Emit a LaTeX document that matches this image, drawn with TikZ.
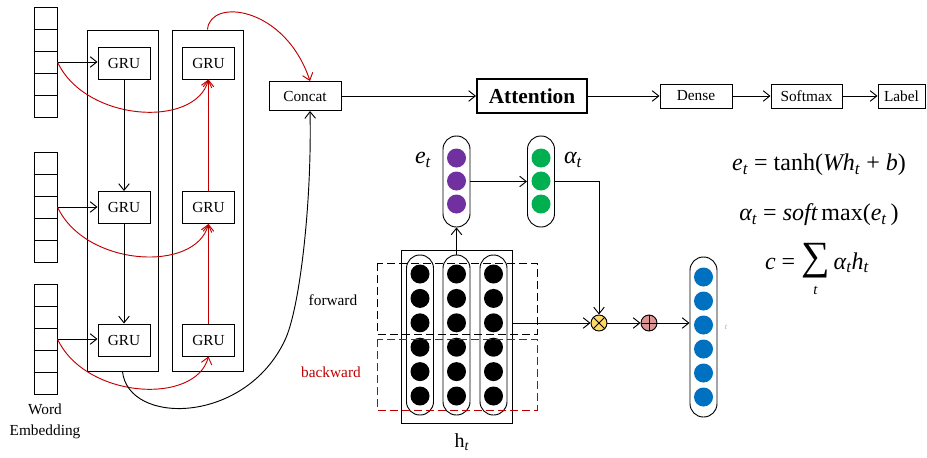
\documentclass[tikz,border=0pt]{standalone}
\usepackage{fontspec}
\setmainfont{Liberation Serif}
\definecolor{GateRed}{RGB}{192, 0, 0}
\definecolor{EPurple}{RGB}{112, 48, 160}
\definecolor{AGreen}{RGB}{0, 176, 80}
\definecolor{OBlue}{RGB}{0, 112, 192}
\definecolor{MulYellow}{RGB}{255, 217, 102}
\definecolor{AddPink}{RGB}{217, 150, 148}
\usetikzlibrary{arrows.meta, positioning, calc}
\newcommand{\tsub}{\textsubscript{\itshape t}}

\begin{document}
\begin{tikzpicture}[
    x=0.75pt, y=-0.75pt, line width=0.7pt,
    every node/.style={font=\fontsize{11.5}{13}\selectfont, align=center},
    arr/.style={-{Straight Barb[length=5pt, width=8pt]}},
    cell/.style={draw, minimum width=17.25pt, minimum height=16.5pt, inner sep=0pt},
    gru/.style={draw, minimum width=39pt, minimum height=24pt, inner sep=0pt},
    lane/.style={draw, minimum width=53.25pt, minimum height=255.75pt, inner sep=0pt},
    block/.style={draw, minimum width=54pt, minimum height=18pt, inner sep=0pt},
    pill/.style={draw, rounded corners=10pt, minimum width=20.25pt, inner sep=0pt},
    dot/.style={circle, minimum size=14.25pt, inner sep=0pt},
    op/.style={draw, circle, minimum size=12pt, inner sep=0pt},
    eq/.style={font=\fontsize{18}{21}\selectfont}
]
\useasboundingbox (0,0) rectangle (927,457);

% word embeddings
\foreach \c/\top in {a/7, b/152, c/284}
  \foreach \i in {1,...,5}
    \node[cell] (emb\c\i) at (45.5, {\top+22*\i-11}) {};
\node[font=\fontsize{11.5}{15.5}\selectfont] (embtxt) at (45,421) {Word\\Embedding};

% bi-GRU
\node[lane] (fwdlane) at (122.5,200.5) {};
\node[lane] (bwdlane) at (207.5,200.5) {};
\foreach \r/\y in {1/63, 2/207.5, 3/340} {
  \node[gru] (f\r) at (124,\y) {GRU};
  \node[gru] (b\r) at (208.5,\y) {GRU};
}
\foreach \c/\r in {a/1, b/2, c/3} {
  \draw[arr] (emb\c3.east) -- (emb\c3.east -| f\r.west);
  \draw[arr, GateRed] (emb\c3.east) .. controls +(28,60) and +(-13,49) .. (b\r.south);
}
\draw[arr] (f1) -- (f2);
\draw[arr] (f2) -- (f3);
\draw[arr, GateRed] (b3) -- (b2);
\draw[arr, GateRed] (b2) -- (b1);

% top row
\node[draw, minimum width=54pt, minimum height=21.75pt] (concat) at (305,96) {Concat};
\node[draw, line width=1.5pt, minimum width=82.5pt, minimum height=25.5pt,
      font=\fontsize{16}{18}\selectfont\bfseries] (attn) at (532,96) {Attention};
\node[block] (dense) at (696,96) {Dense};
\node[block, minimum width=53.25pt] (soft) at (806.5,96) {Softmax};
\node[block, minimum width=35.25pt] (label) at (901.5,96) {Label};
\draw[arr] (concat) -- (attn);
\draw[arr] (attn) -- (dense);
\draw[arr] (dense) -- (soft);
\draw[arr] (soft) -- (label);

\draw[arr, GateRed] (bwdlane.north) .. controls +(2.5,-32) and +(-25,-75) .. ([xshift=3.75pt]concat.north);
\coordinate (bend) at (285,340);
\draw[arr] (fwdlane.south) .. controls +(5.5,54) and +(-40,85) .. (bend)
  .. controls +(15,-32) and +(2,90) .. ([xshift=3.75pt]concat.south);

% attention detail
\node[pill, minimum height=68.25pt] (ecap) at (456.5,181.5) {};
\node[pill, minimum height=68.25pt] (acap) at (541,181.5) {};
\foreach \i/\y in {1/158, 2/181, 3/204} {
  \node[dot, fill=EPurple] (e\i) at (456.5,\y) {};
  \node[dot, fill=AGreen] (a\i) at (541,\y) {};
}
\node[eq] (elab) at (423,160) {{\itshape e}\tsub};
\node[eq] (alab) at (573,160) {{\itshape α}\tsub};

\node[draw, minimum width=83.25pt, minimum height=129.75pt] (hbox) at (456.5,336.5) {};
\foreach \k/\x in {1/420, 2/456.5, 3/493.5} {
  \node[pill, minimum height=120pt] (h\k) at (\x,335) {};
  \foreach \i in {1,...,6}
    \node[dot, fill=black] (h\k\i) at (\x, {274+24.4*(\i-1)}) {};
}
\node[font=\fontsize{15}{17}\selectfont] (hlab) at (462,442) {h\tsub};
\draw[dashed, dash pattern=on 6pt off 3pt] (377,263) rectangle (537,334);
\draw[GateRed, dashed, dash pattern=on 6pt off 3pt] (377,339) rectangle (537,410);
\node (fwdtxt) at (333,300) {forward};
\node[text=GateRed] (bwdtxt) at (331,372) {backward};

\node[op, fill=MulYellow] (mult) at (599,323) {};
\draw (mult.north west) -- (mult.south east) (mult.north east) -- (mult.south west);
\node[op, fill=AddPink] (plus) at (649,323) {};
\draw (plus.north) -- (plus.south) (plus.west) -- (plus.east);

\node[pill, minimum height=120pt] (ocap) at (703.5,337) {};
\foreach \i in {1,...,6}
  \node[dot, fill=OBlue] (o\i) at (703.5, {277+24*(\i-1)}) {};
\node[text=black!35, font=\fontsize{6}{7}\selectfont\itshape] (ttag) at (726,327) {t};

\draw[arr] (h2.north) -- (ecap.south);
\draw[arr] (ecap.east) -- (acap.west);
\draw[arr] (acap.east) -| (mult.north);
\draw[arr] (hbox.east |- mult) -- (mult);
\draw[arr] (mult) -- (plus);
\draw[arr] (plus) -- (plus -| ocap.west);

% equations
\node[eq] (eq1) at (819,165) {{\itshape e}\tsub{} = tanh({\itshape Wh}\tsub{} + {\itshape b})};
\node[eq] (eq2) at (819,215) {{\itshape α}\tsub{} = {\itshape soft\,}max({\itshape e}\tsub\,)};
\node[eq, anchor=north] (eq3) at (817,238) {{\itshape c} = \begin{tabular}[t]{@{}c@{}}{\fontsize{30}{30}\selectfont ∑}\\[-2pt]{\fontsize{11}{11}\selectfont\itshape t}\end{tabular}\,{\itshape α}\tsub{\itshape h}\tsub};
\end{tikzpicture}
\end{document}
